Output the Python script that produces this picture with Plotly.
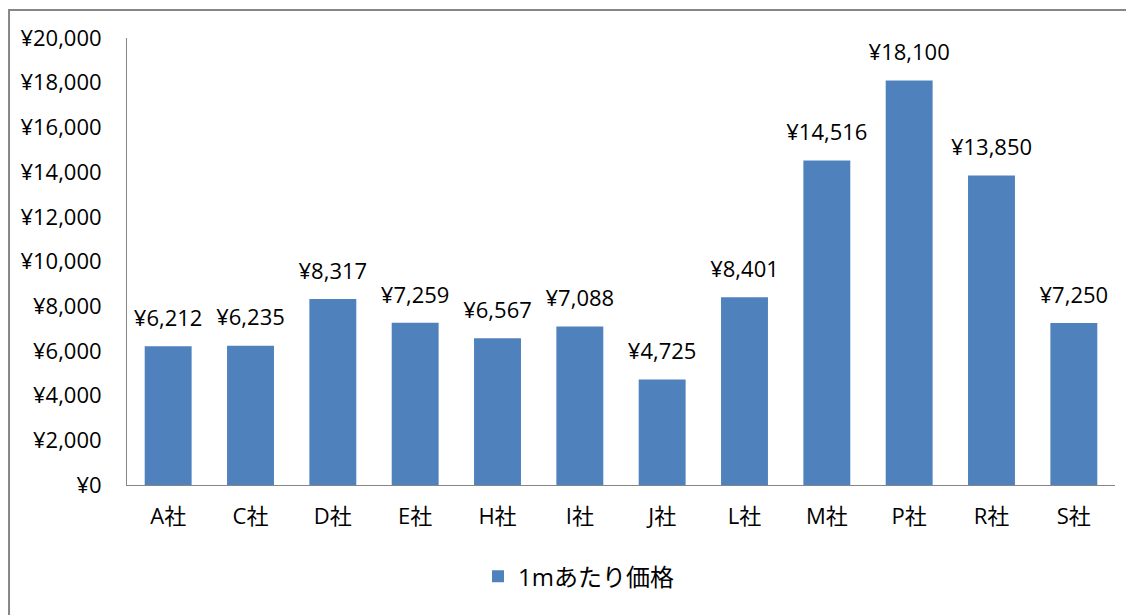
import plotly.graph_objects as go

categories = ["A社", "C社", "D社", "E社", "H社", "I社", "J社", "L社", "M社", "P社", "R社", "S社"]
values = [6212, 6235, 8317, 7259, 6567, 7088, 4725, 8401, 14516, 18100, 13850, 7250]
series_name = "1mあたり価格"

FONT = "Open Sans, Noto Sans CJK JP, sans-serif"

fig = go.Figure()
fig.add_trace(go.Bar(
    x=categories, y=values, name=series_name,
    marker=dict(color="#4F81BD", line=dict(width=0)),
    hoverinfo="skip",
))
fig.add_trace(go.Scatter(
    x=categories, y=values, mode="markers+text", showlegend=False,
    marker=dict(size=22, opacity=0),
    texttemplate="¥%{y:,}", textposition="top center",
    textfont=dict(color="black", size=22, family=FONT),
    cliponaxis=False, hoverinfo="skip",
))

fig.update_layout(
    width=1126, height=607,
    margin=dict(l=119, r=19, t=30, b=130),
    paper_bgcolor="white", plot_bgcolor="white",
    font=dict(family=FONT, size=22, color="black"),
    bargap=0.43,
    showlegend=True,
    legend=dict(orientation="h", x=0.457, xanchor="center", y=-0.205, yanchor="middle",
                font=dict(size=24, family=FONT), itemwidth=30),
    xaxis=dict(range=[-0.5, len(categories) - 0.5], showline=True, linecolor="#868686",
               linewidth=1, ticks="", tickfont=dict(size=22), ticklabelstandoff=12),
    yaxis=dict(range=[0, 20000], dtick=2000, tickprefix="¥", tickformat=",",
               showgrid=False, showline=True, linecolor="#868686", linewidth=1,
               ticks="", zeroline=False, tickfont=dict(size=22), ticklabelstandoff=20),
    shapes=[dict(type="rect", xref="paper", yref="paper",
                 x0=-0.1194, x1=1.05, y0=-0.4, y1=1.0626,
                 line=dict(color="#868686", width=2), fillcolor="rgba(0,0,0,0)", layer="below")],
)

fig.write_html("out.html")
